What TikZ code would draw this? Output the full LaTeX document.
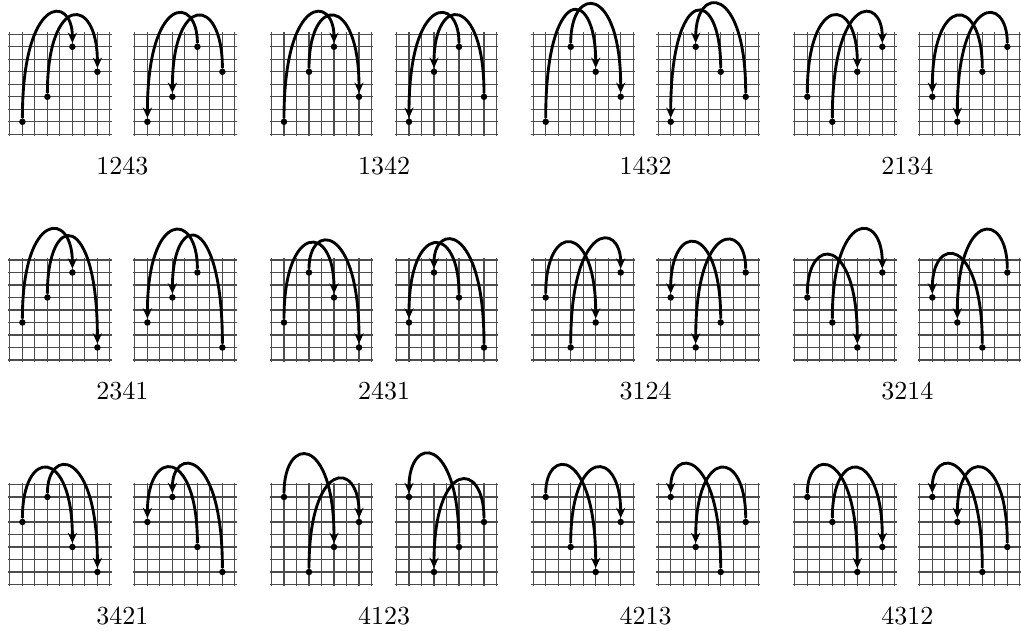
\documentclass[tikz,border=0pt]{standalone}
\usetikzlibrary{arrows.meta}
\tikzset{
  gridline/.style={line width=0.4pt, black!70},
  dot/.style={circle, fill=black, inner sep=0pt, minimum size=2.5pt},
  arcline/.style={line width=1.1pt, black},
  >={Stealth[length=4pt,width=3.5pt,inset=1.3pt]},
  lab/.style={anchor=base, inner sep=0pt}
}
% #1 x, #2 y (px), #3-#6 values, #7 #8 control heights, #9 0=forward 1=reverse
\newcommand\permgrid[9]{%
  \begin{scope}[shift={(#1,#2)},x=4.80769pt,y=4.80769pt]
    \foreach \i in {0,...,8}{%
      \draw[gridline] (\i,-0.15) -- (\i,8.15);
      \draw[gridline] (-0.15,\i) -- (8.15,\i);}
    \node[dot] (P1) at (1,{2*#3-1}) {};
    \node[dot] (P2) at (3,{2*#4-1}) {};
    \node[dot] (P3) at (5,{2*#5-1}) {};
    \node[dot] (P4) at (7,{2*#6-1}) {};
    \coordinate (HA) at (0,#7);
    \coordinate (HB) at (0,#8);
    \ifnum#9=0
      \draw[arcline,->] (P1) .. controls (P1 |- HA) and (P3 |- HA) .. (P3);
      \draw[arcline,->] (P2) .. controls (P2 |- HB) and (P4 |- HB) .. (P4);
    \else
      \draw[arcline,->] (P3) .. controls (P3 |- HA) and (P1 |- HA) .. (P1);
      \draw[arcline,->] (P4) .. controls (P4 |- HB) and (P2 |- HB) .. (P2);
    \fi
  \end{scope}}
\newcommand\perm[8]{%
  \permgrid{#1}{#2}{#3}{#4}{#5}{#6}{#7}{#8}{0}
  \permgrid{#1+125}{#2}{#3}{#4}{#5}{#6}{#7}{#8}{1}
  \node[lab] (L#3#4#5#6) at ({#1+112.5},{#2+40}) {#3#4#5#6};}
\begin{document}
\begin{tikzpicture}[x=0.384615pt,y=-0.384615pt]
  \useasboundingbox (0,0) rectangle (1021,631);
  % row 1
  \perm{9.9}{134.3}{1}{2}{4}{3}{11.2}{11.2}
  \perm{271.5}{134.3}{1}{3}{4}{2}{11.2}{11.2}
  \perm{533.2}{134.3}{1}{4}{3}{2}{12}{12}
  \perm{794.8}{134.3}{2}{1}{3}{4}{11.2}{11.2}
  % row 2
  \perm{9.9}{360}{2}{3}{4}{1}{12}{12}
  \perm{271.5}{360}{2}{4}{3}{1}{11}{11}
  \perm{533.2}{360}{3}{1}{2}{4}{11.1}{11.1}
  \perm{794.8}{360}{3}{2}{1}{4}{10}{12}
  % row 3
  \perm{9.9}{584.5}{3}{4}{2}{1}{11}{11}
  \perm{271.5}{584.5}{4}{1}{2}{3}{12}{10}
  \perm{533.2}{584.5}{4}{2}{1}{3}{11}{11}
  \perm{794.8}{584.5}{4}{3}{1}{2}{11}{11}
\end{tikzpicture}
\end{document}
